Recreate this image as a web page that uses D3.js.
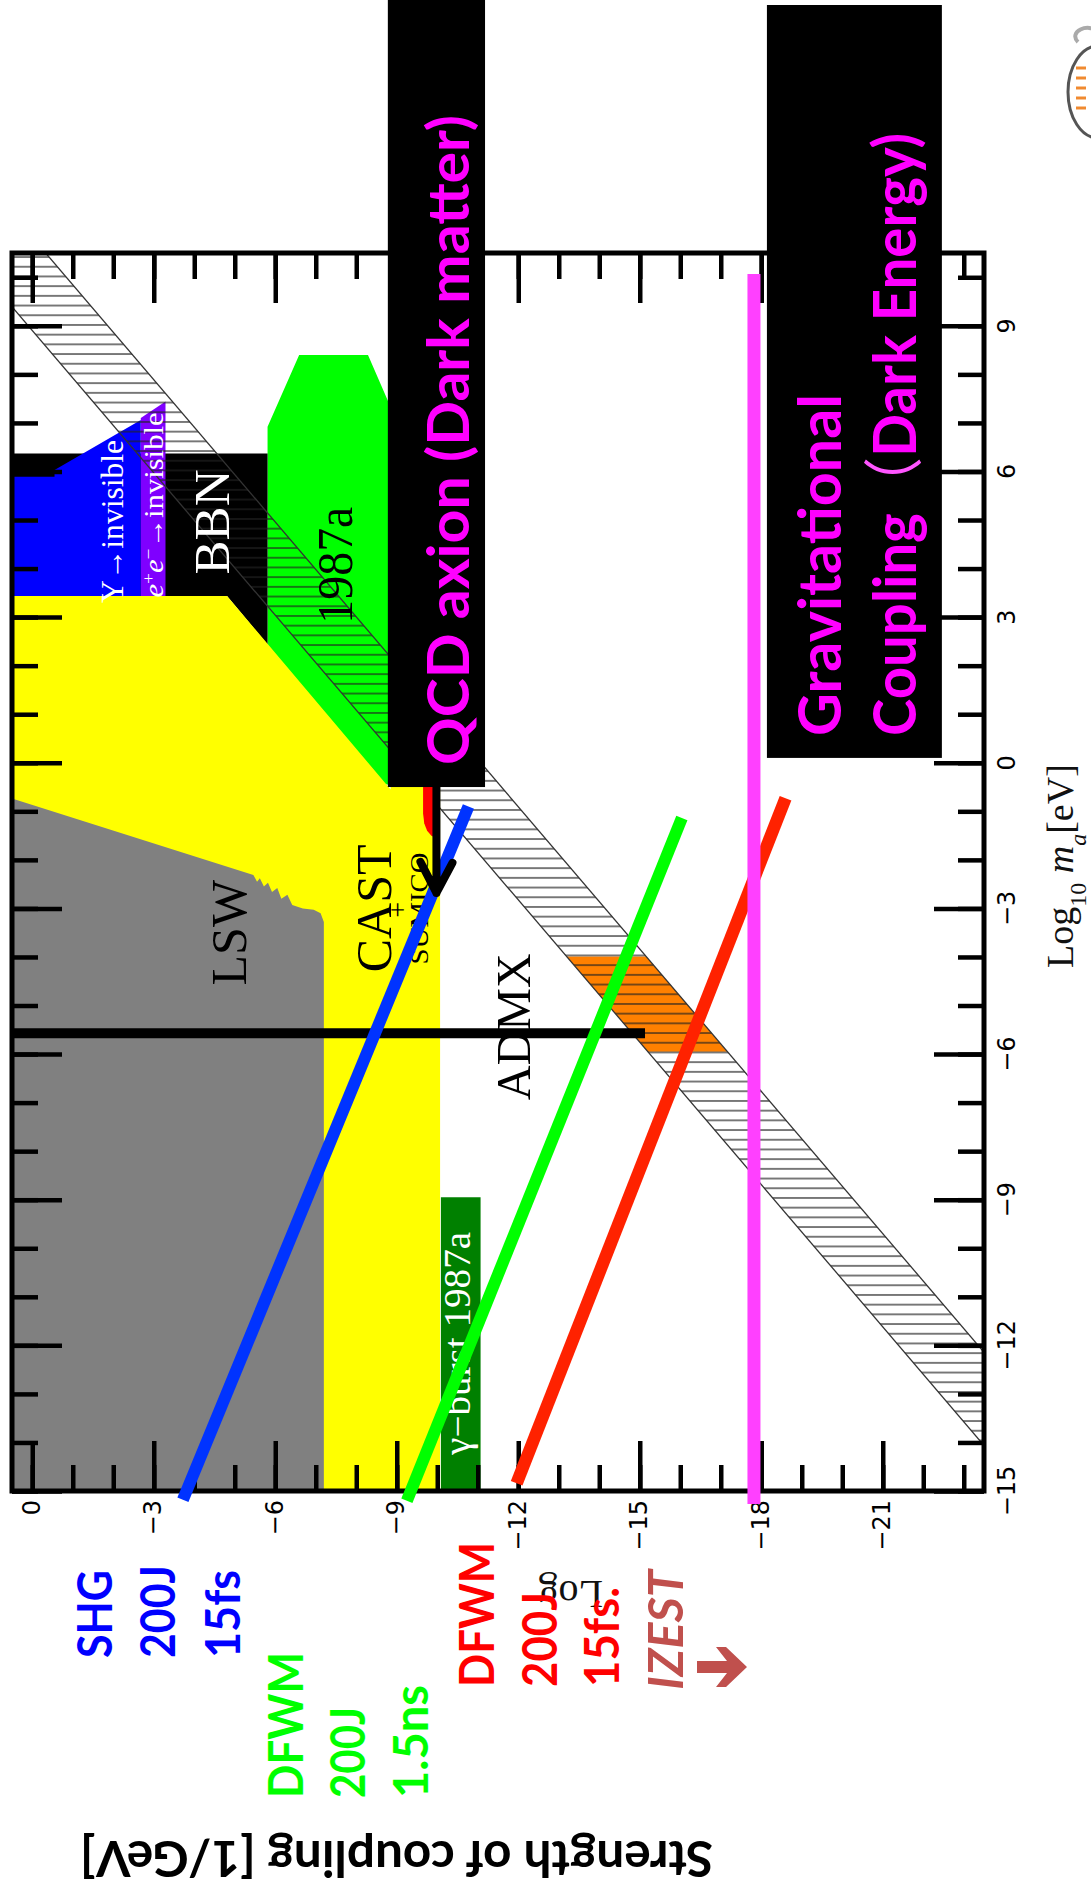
<!DOCTYPE html>
<html>
<head>
<meta charset="utf-8">
<script src="https://cdn.jsdelivr.net/npm/d3@7"></script>
<style>
  body { margin: 0; background: #fff; }
  svg { display: block; }
</style>
</head>
<body>
<div id="chart"></div>
<script>
// ---- axis values (log10 m_a [eV] runs vertically, log10 g [1/GeV] horizontally)
const massDomain = [10.5, -15];
const couplingDomain = [0.5, -23.5];
const massTicks = [9, 6, 3, 0, -3, -6, -9, -12, -15];
const couplingTicks = [0, -3, -6, -9, -12, -15, -18, -21];

// ---- excluded regions, [log10 g, log10 m] pairs
const lswRegion = [[0.53,-0.73],[-5.46,-2.31],[-5.55,-2.45],[-5.62,-2.38],[-5.72,-2.55],[-5.82,-2.47],
  [-5.92,-2.66],[-6.05,-2.58],[-6.15,-2.8],[-6.3,-2.72],[-6.42,-2.93],[-6.68,-3.0],[-6.95,-3.03],
  [-7.12,-3.1],[-7.2,-3.28],[-7.2,-15.5],[0.53,-15.5]];
const castRegion = [[0.53,3.435],[-4.81,3.435],[-8.85,-0.55],[-8.85,-0.3],[-10.07,-0.3],[-10.07,-15.5],[0.53,-15.5]];
const castRedRegion = [[-9.65,-0.45],[-9.65,-1.05],[-9.68,-1.25],[-9.75,-1.4],[-9.85,-1.5],[-9.97,-1.56],
  [-10.05,-1.56],[-10.05,-0.45]];
const bbnRegion = [[0.53,6.37],[-5.81,6.37],[-5.81,2.43],[-4.81,3.435],[0.53,3.435]];
const sn1987aRegion = [[-5.81,2.43],[-5.81,6.92],[-6.59,8.4],[-8.29,8.4],[-8.81,7.4],[-9.3,6.4],
  [-9.3,-0.45],[-8.6,-0.45],[-5.6,2.6]];
const upsilonRegion = [[0.53,3.435],[0.53,5.89],[-0.55,5.89],[-0.55,6.03],[-2.68,7.06],[-2.68,3.435]];
const eeRegion = [[-2.68,3.435],[-2.68,7.1],[-3.29,7.44],[-3.29,3.435]];
const gammaBurstRegion = [[-10.09,-8.95],[-11.07,-8.95],[-11.07,-15.5],[-10.09,-15.5]];
const admxRegion = [[-13.19,-3.99],[-15.16,-3.99],[-17.16,-5.95],[-15.2,-5.95]];
const qcdBand = [[1.0,9.88],[-24,-14.55],[-24,-12.63],[1.0,11.8]];
const admxBar = [[0.53,-5.57],[-15.13,-5.57]];

// ---- projected sensitivity lines
const shgLine = [[-3.72,-15.18],[-10.77,-0.9]];
const dfwmNsLine = [[-9.25,-15.2],[-16.04,-1.14]];
const dfwmFsLine = [[-11.96,-14.84],[-18.6,-0.73]];
const gravityLine = [[-17.82,-15.27],[-17.82,10.07]];

// ---- svg + scales
const W = 1091, H = 1891;
const frame = { left: 12, right: 984, top: 253, bottom: 1491 };

const svg = d3.select("#chart").append("svg")
  .attr("width", W).attr("height", H);

const x = d3.scaleLinear().domain(couplingDomain).range([frame.left, frame.right]);
const y = d3.scaleLinear().domain(massDomain).range([frame.top, frame.bottom]);

const line = d3.line().x(d => x(d[0])).y(d => y(d[1]));
const poly = pts => line(pts) + "Z";

const defs = svg.append("defs");
defs.append("clipPath").attr("id", "clip")
  .append("rect")
  .attr("x", frame.left).attr("y", frame.top)
  .attr("width", frame.right - frame.left).attr("height", frame.bottom - frame.top);

const hatch = defs.append("pattern").attr("id", "hatch")
  .attr("patternUnits", "userSpaceOnUse")
  .attr("width", 20).attr("height", 9.7);
hatch.append("line")
  .attr("x1", 0).attr("x2", 20).attr("y1", 4.85).attr("y2", 4.85)
  .attr("stroke", "#222").attr("stroke-width", 1.2);

// ---- regions
const plot = svg.append("g").attr("clip-path", "url(#clip)");

function region(pts, fill) {
  plot.append("path").attr("d", poly(pts)).attr("fill", fill);
}
region(sn1987aRegion, "#00ff00");
region(bbnRegion, "#000");
region(upsilonRegion, "#0000ff");
region(eeRegion, "#7f00ff");
region(admxRegion, "#ff8000");

plot.append("path").attr("d", poly(qcdBand)).attr("fill", "url(#hatch)");
plot.append("path").attr("d", line([qcdBand[0], qcdBand[1]]))
  .attr("stroke", "#333").attr("stroke-width", 1.3).attr("fill", "none");
plot.append("path").attr("d", line([qcdBand[3], qcdBand[2]]))
  .attr("stroke", "#333").attr("stroke-width", 1.3).attr("fill", "none");

region(castRegion, "#ffff00");
region(lswRegion, "#808080");
region(gammaBurstRegion, "#008000");
region(castRedRegion, "#ff0000");

plot.append("path").attr("d", line(admxBar))
  .attr("stroke", "#000").attr("stroke-width", 10).attr("fill", "none");

// ---- frame and ticks
function ticks(axis, tx, ty, size, values) {
  svg.append("g")
    .attr("transform", `translate(${tx},${ty})`)
    .call(axis.tickValues(values).tickSize(size).tickFormat(""))
    .call(g => g.select(".domain").remove())
    .call(g => g.selectAll("line").attr("stroke", "#000").attr("stroke-width", 4.5));
}
const massMinor = d3.range(-15, 11);
const couplingMinor = d3.range(0, -24, -1);
const mMajor = massMinor.filter(v => v % 3 === 0);
const gMajor = couplingMinor.filter(v => v % 3 === 0);

ticks(d3.axisRight(y), frame.left, 0, 26, massMinor);
ticks(d3.axisRight(y), frame.left, 0, 50, mMajor);
ticks(d3.axisLeft(y), frame.right, 0, 26, massMinor);
ticks(d3.axisLeft(y), frame.right, 0, 50, mMajor);
ticks(d3.axisTop(x), 0, frame.bottom, 26, couplingMinor);
ticks(d3.axisTop(x), 0, frame.bottom, 50, gMajor);
ticks(d3.axisBottom(x), 0, frame.top, 26, couplingMinor);
ticks(d3.axisBottom(x), 0, frame.top, 50, gMajor);

svg.append("rect")
  .attr("x", frame.left).attr("y", frame.top)
  .attr("width", frame.right - frame.left).attr("height", frame.bottom - frame.top)
  .attr("fill", "none").attr("stroke", "#000").attr("stroke-width", 5);

// ---- text helper
function rotText(px, py, angle, str, o) {
  const t = svg.append("text")
    .attr("transform", `translate(${px},${py}) rotate(${angle})`)
    .attr("text-anchor", o.anchor || "start")
    .attr("font-family", o.font || "'Liberation Serif', serif")
    .attr("font-size", o.size)
    .attr("font-weight", o.weight || "normal")
    .attr("font-style", o.style || "normal")
    .attr("fill", o.fill || "#000");
  if (str !== null) t.text(str);
  if (o.len) t.attr("textLength", o.len).attr("lengthAdjust", "spacingAndGlyphs");
  return t;
}

// tick labels
const fmt = v => (v < 0 ? "\u2212" : "") + Math.abs(v);
couplingTicks.forEach(v => {
  rotText(x(v) + 7.5, frame.bottom + 9, -90, fmt(v),
    { anchor: "end", size: 24, font: "'DejaVu Sans', sans-serif" });
});
massTicks.forEach(v => {
  rotText(frame.right + 31, y(v), -90, fmt(v),
    { anchor: "middle", size: 24, font: "'DejaVu Sans', sans-serif" });
});

// labels inside the plot
const serif = "'Liberation Serif', 'Times New Roman', serif";
rotText(x(-5.28), y(-3.5), -90, "LSW", { anchor: "middle", size: 50, font: serif });
rotText(x(-8.86), y(-3.0), -90, "CAST", { anchor: "middle", size: 50, font: serif });
rotText(x(-9.25), y(-3.03), -90, "+", { anchor: "middle", size: 28, font: serif });
rotText(x(-9.77), y(-3.0), -90, "SUMICO", { anchor: "middle", size: 26, font: serif, len: 112 });
rotText(x(-12.29), y(-5.44), -90, "ADMX", { anchor: "middle", size: 48, font: serif, len: 147 });
rotText(x(-4.86), y(4.96), -90, "BBN", { anchor: "middle", size: 51, font: serif, fill: "#fff" });
rotText(x(-7.9), y(4.07), -90, "1987a", { anchor: "middle", size: 50, font: serif, len: 117 });
rotText(x(-2.24), y(4.97), -90, "\u03a5\u2192invisible", { anchor: "middle", size: 32, font: serif, fill: "#fff", len: 163 });
const ee = rotText(x(-3.23), y(5.31), -90, null, { anchor: "middle", size: 27, font: serif, fill: "#fff", len: 185 });
ee.append("tspan").attr("font-style", "italic").text("e");
ee.append("tspan").attr("baseline-shift", "super").attr("font-size", 17).text("+");
ee.append("tspan").attr("font-style", "italic").text("e");
ee.append("tspan").attr("baseline-shift", "super").attr("font-size", 17).text("\u2212");
ee.append("tspan").text("\u2192invisible");
rotText(x(-10.81), y(-11.96), -90, "\u03b3\u2212burst 1987a", { anchor: "middle", size: 37, font: serif, fill: "#fff", len: 223 });

// ---- sensitivity lines
function thick(pts, color, w) {
  svg.append("path").attr("d", line(pts))
    .attr("stroke", color).attr("stroke-width", w).attr("fill", "none");
}
thick(shgLine, "#0033ff", 12);
thick(dfwmNsLine, "#00ff00", 12);
thick(dfwmFsLine, "#ff2200", 12.5);
thick(gravityLine, "#ff40ff", 13);

// ---- QCD axion box + arrow
const sans = "Lato, 'Noto Sans CJK SC', sans-serif";
svg.append("rect")
  .attr("x", x(-8.78)).attr("y", 0)
  .attr("width", x(-11.18) - x(-8.78)).attr("height", y(-0.5))
  .attr("fill", "#000");
rotText(x(-10.0) + 32, y(-0.5) - 22, -90, "QCD axion (Dark matter)",
  { size: 58, font: sans, weight: "bold", fill: "#ff00ff", len: 650 });

const tipX = x(-9.98), tipY = y(-2.68);
svg.append("path")
  .attr("d", `M${tipX},${y(-0.5)}V${tipY}M${tipX - 16},${tipY - 31}L${tipX},${tipY}L${tipX + 16},${tipY - 30}`)
  .attr("stroke", "#000").attr("stroke-width", 8)
  .attr("stroke-linecap", "round").attr("stroke-linejoin", "round").attr("fill", "none");

// ---- Gravitational coupling box
svg.append("rect")
  .attr("x", x(-18.14)).attr("y", 5)
  .attr("width", x(-22.46) - x(-18.14)).attr("height", y(0.1) - 5)
  .attr("fill", "#000");
rotText(841, 736, -90, "Gravitational", { size: 60, font: sans, weight: "bold", fill: "#ff00ff", len: 342 });
const cp = rotText(916, 736, -90, null, { size: 60, font: sans, weight: "bold", fill: "#ff00ff", len: 603 });
cp.append("tspan").text("Coupling");
cp.append("tspan").attr("fill", "#ff55ff").attr("font-weight", "normal").text("\uff08");
cp.append("tspan").text("Dark Energy)");

// ---- axis titles
const mt = rotText(1073, 968, -90, null, { size: 38, font: serif, fill: "#111" });
mt.append("tspan").text("Log");
mt.append("tspan").attr("baseline-shift", "sub").attr("font-size", 24).text("10");
mt.append("tspan").attr("font-style", "italic").text(" m");
mt.append("tspan").attr("baseline-shift", "sub").attr("font-size", 24).attr("font-style", "italic").text("a");
mt.append("tspan").text("[eV]");

rotText(603, 1581, 180, "Log", { size: 40, font: serif, fill: "#111" });

rotText(396.5, 1841, 180, "Strength of coupling [1/GeV]",
  { anchor: "middle", size: 50, font: sans, weight: "bold", len: 633 });

// ---- experiment labels (left side)
const labelBlocks = [
  { lines: ["SHG", "200J", "15fs"], lens: [88, 93, 88], xs: [112, 175, 240], start: 1658, fill: "#0000ff" },
  { lines: ["DFWM", "200J", "1.5ns"], lens: [146, 91, 113], xs: [303, 365, 428], start: 1798, fill: "#00ff00" },
  { lines: ["DFWM", "200J", "15fs."], lens: [145, 95, 100], xs: [494, 557, 619], start: 1687, fill: "#ff0000" }
];
labelBlocks.forEach(b => {
  b.lines.forEach((s, i) => {
    rotText(b.xs[i], b.start, -90, s, { size: 48, font: sans, weight: "bold", fill: b.fill, len: b.lens[i] });
  });
});
rotText(683, 1690, -90, "IZEST", { size: 48, font: sans, weight: "bold", style: "italic", fill: "#c0504d", len: 120 });

// IZEST arrow glyph
svg.append("path")
  .attr("transform", "translate(697,1667)")
  .attr("d", "M0,-6H30L19,-20H29L50,0L29,20H19L30,6H0Z")
  .attr("fill", "#c0504d");

// partial logo at the top right edge
const logo = svg.append("g").attr("transform", "translate(1098,92)");
logo.append("ellipse").attr("rx", 30).attr("ry", 46)
  .attr("fill", "none").attr("stroke", "#555").attr("stroke-width", 3);
[-24, -14, -4, 6, 16].forEach(dy => {
  logo.append("line").attr("x1", -22).attr("x2", -12).attr("y1", dy).attr("y2", dy)
    .attr("stroke", "#f08a30").attr("stroke-width", 3);
});
logo.append("path").attr("d", "M-20,-50C-30,-60 -10,-70 0,-60")
  .attr("fill", "none").attr("stroke", "#aaa").attr("stroke-width", 4);
</script>
</body>
</html>
